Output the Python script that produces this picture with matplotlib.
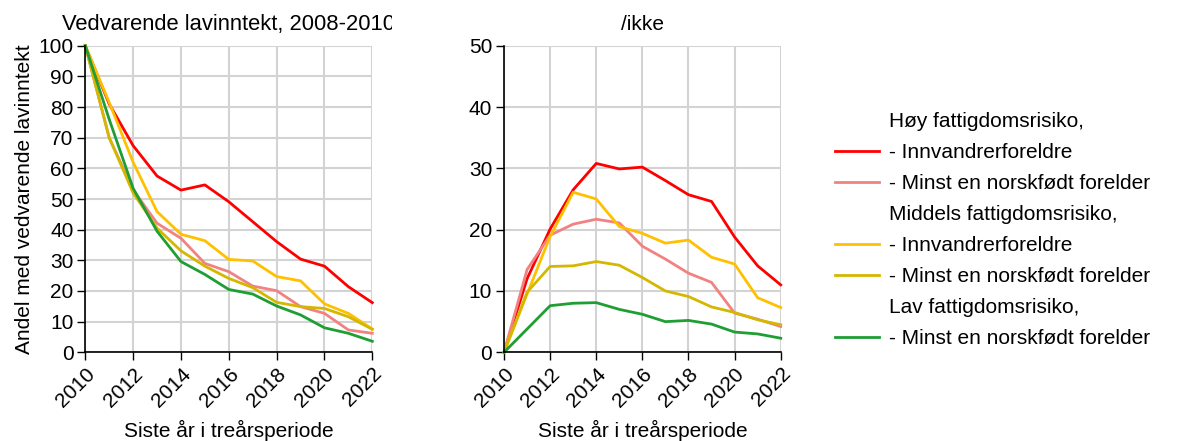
import numpy as np
import matplotlib.pyplot as plt
from matplotlib.lines import Line2D
from matplotlib.transforms import Bbox, TransformedBbox

plt.rcParams['font.family'] = ['Liberation Sans', 'DejaVu Sans']

years = list(range(2010, 2023))

# venstre panel: andel med vedvarende lavinntekt
hoy_innv_l = [100, 81, 67.4, 57.5, 52.9, 54.6, 49.1, 42.6, 36.1, 30.4, 28.1, 21.4, 16.2]
hoy_norsk_l = [100, 70, 53, 42.1, 37.2, 29.0, 26.3, 21.6, 20.1, 14.9, 12.7, 7.3, 6.2]
mid_innv_l = [100, 81.5, 62, 45.9, 38.5, 36.4, 30.3, 29.8, 24.7, 23.3, 15.8, 12.7, 7.6]
mid_norsk_l = [100, 70, 52, 40.5, 33.1, 28.1, 24.1, 21.1, 16.3, 14.9, 14.3, 11.6, 7.5]
lav_norsk_l = [100, 76, 53.5, 39.5, 29.6, 25.4, 20.5, 19.0, 15.1, 12.2, 8.0, 6.2, 3.6]

# hoyre panel: /ikke
hoy_innv_r = [0, 12, 20.1, 26.5, 30.8, 29.9, 30.2, 28.0, 25.7, 24.6, 18.8, 14.1, 11.0]
hoy_norsk_r = [0, 13.5, 19.1, 20.9, 21.7, 21.1, 17.3, 15.2, 12.9, 11.4, 6.4, 5.4, 4.2]
mid_innv_r = [0, 9.5, 18.9, 26.1, 25.0, 20.5, 19.4, 17.8, 18.3, 15.5, 14.4, 8.9, 7.3]
mid_norsk_r = [0, 9.8, 14.0, 14.1, 14.8, 14.2, 12.2, 10.0, 9.1, 7.4, 6.5, 5.3, 4.5]
lav_norsk_r = [0, 3.8, 7.6, 8.0, 8.1, 7.0, 6.2, 5.0, 5.2, 4.6, 3.3, 3.0, 2.3]

colors = ['#ff0000', '#f28282', '#ffc000', '#d4b800', '#1f9e34']
labels = ['- Innvandrerforeldre', '- Minst en norskfødt forelder',
          '- Innvandrerforeldre', '- Minst en norskfødt forelder',
          '- Minst en norskfødt forelder']
headers = ['Høy fattigdomsrisiko,', 'Middels fattigdomsrisiko,', 'Lav fattigdomsrisiko,']

fig = plt.figure(figsize=(11.91, 4.41), dpi=100)
ax1 = fig.add_axes([0.0716, 0.2011, 0.2410, 0.6953])
ax2 = fig.add_axes([0.4232, 0.2011, 0.2323, 0.6953])

fs = 15

def style(ax, ymax):
    ax.set_xlim(2010, 2022)
    ax.set_ylim(0, ymax)
    ax.set_xticks(range(2010, 2023, 2))
    ax.set_xticklabels([str(y) for y in range(2010, 2023, 2)], rotation=45,
                       ha='right', rotation_mode='anchor', fontsize=fs)
    ax.set_yticks(range(0, ymax + 1, 10))
    ax.tick_params(axis='y', labelsize=fs, length=5.5, width=1, pad=3)
    ax.tick_params(axis='x', length=5.5, width=1, pad=3)
    ax.grid(True, color='#d3d3d3', linewidth=1.5)
    ax.set_axisbelow(True)
    for s in ['top', 'right']:
        ax.spines[s].set_visible(False)
    for s in ['left', 'bottom']:
        ax.spines[s].set_linewidth(1.2)
    ax.set_xlabel('Siste år i treårsperiode', fontsize=fs, labelpad=7)

series_l = [hoy_innv_l, hoy_norsk_l, mid_innv_l, mid_norsk_l, lav_norsk_l]
series_r = [hoy_innv_r, hoy_norsk_r, mid_innv_r, mid_norsk_r, lav_norsk_r]

handles = []
for vals, c in zip(series_l, colors):
    ax1.plot(years, vals, color=c, linewidth=2, clip_on=False)
for vals, c in zip(series_r, colors):
    h, = ax2.plot(years, vals, color=c, linewidth=2, clip_on=False)
    handles.append(h)

style(ax1, 100)
style(ax2, 50)
ax1.set_ylabel('Andel med vedvarende lavinntekt', fontsize=fs, labelpad=3)

# tittelen er kuttet i originalen
t = ax1.set_title('Vedvarende lavinntekt, 2008-2010', fontsize=15.8, pad=11)
t.set_clip_box(TransformedBbox(Bbox.from_extents(0, 0, 392 / 1191, 1), fig.transFigure))
t.set_clip_on(True)
ax2.set_title('/ikke', fontsize=fs, pad=11)

blank = Line2D([], [], color='none')
leg_handles = [blank, handles[0], handles[1], blank, handles[2], handles[3], blank, handles[4]]
leg_labels = [headers[0], labels[0], labels[1], headers[1], labels[2], labels[3], headers[2], labels[4]]
fig.legend(leg_handles, leg_labels, loc='center left', bbox_to_anchor=(0.694, 0.478),
           frameon=False, fontsize=fs, handlelength=2.1, handletextpad=0.5,
           labelspacing=0.58, borderaxespad=0)

fig.savefig('out.png', dpi=100)
